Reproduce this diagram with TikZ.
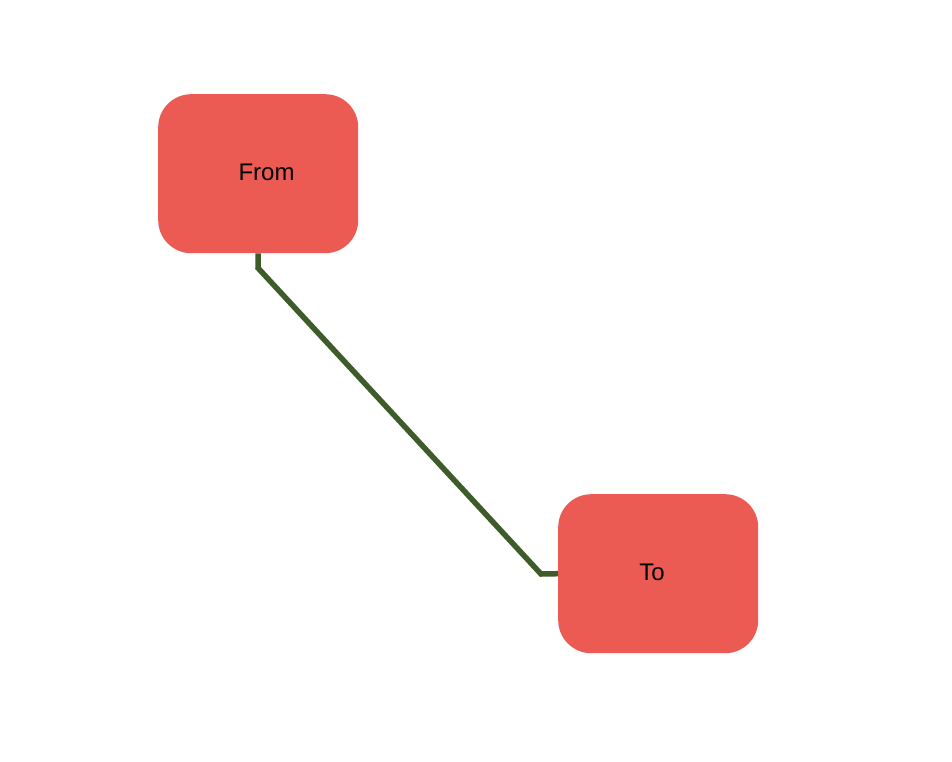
\documentclass[tikz,border=0pt]{standalone}
\usepackage{fontspec}
\setmainfont{Liberation Sans}
\definecolor{boxred}{HTML}{EC5B53}
\definecolor{linkgreen}{HTML}{3E5B2A}
\begin{document}
\begin{tikzpicture}[x=1pt,y=-1pt,
  box/.style={fill=boxred,draw=none,rounded corners=33pt,minimum width=200pt,minimum height=159pt,inner sep=0pt,anchor=north west},
  lbl/.style={font=\fontsize{24}{28}\selectfont,text=black,inner sep=0pt},
  link/.style={draw=linkgreen,line width=5.5pt,line join=miter}]
\useasboundingbox (0,0) rectangle (952,762);
\node[box] (from) at (158,94) {};
\node[box] (to) at (558,494) {};
\node[lbl] (fromtxt) at (266.5,172) {From};
\node[lbl] (totxt) at (652,572) {To};
\coordinate (bend1) at (258,268);
\coordinate (bend2) at (541,574);
\draw[link] (from.south) -- (bend1) -- (bend2) -- (to.west);
\end{tikzpicture}
\end{document}
